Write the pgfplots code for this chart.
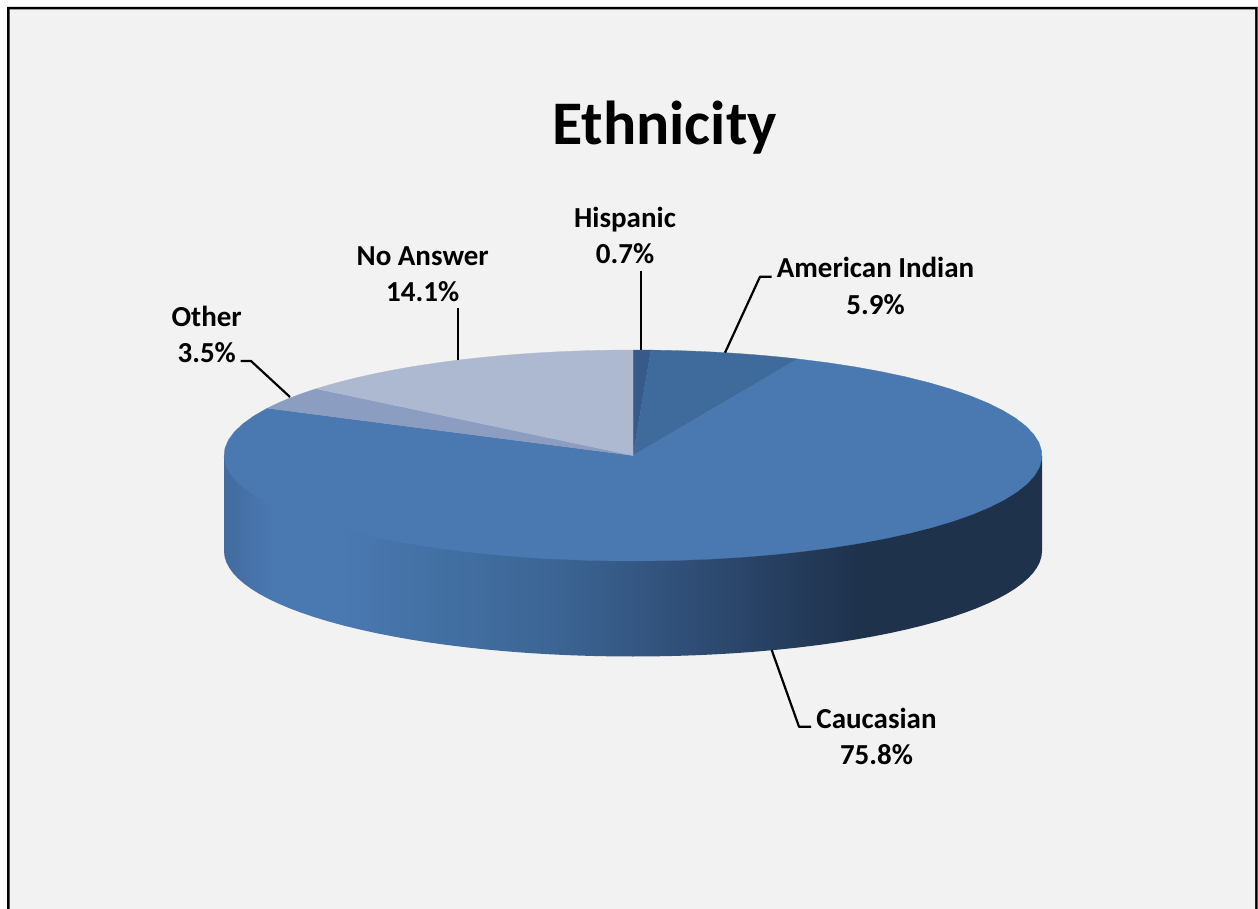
\documentclass[border=0pt]{standalone}
\usepackage{pgfplots}
\usepackage{pgfplotstable}
\usepackage{fontspec}
\pgfplotsset{compat=1.18}
\setmainfont{Carlito}

\definecolor{panel}{HTML}{F2F2F2}
\definecolor{hispanic}{HTML}{365A8A}
\definecolor{amindian}{HTML}{3F6A9C}
\definecolor{caucasian}{HTML}{4A78B1}
\definecolor{other}{HTML}{8B9EC1}
\definecolor{noanswer}{HTML}{ADB9D1}
\definecolor{rimedge}{HTML}{416C9F}
\definecolor{rimlight}{HTML}{4A78B1}
\definecolor{rimA}{HTML}{4472A6}
\definecolor{rimB}{HTML}{3B6493}
\definecolor{rimC}{HTML}{2F4D75}
\definecolor{rimD}{HTML}{1E324C}

% Rim of the disc: light on the left, falling to dark towards the right.
\pgfdeclarehorizontalshading{rim}{100bp}{
  color(0bp)=(rimedge);
  color(25bp)=(rimedge);
  color(28bp)=(rimlight);
  color(32bp)=(rimlight);
  color(37bp)=(rimA);
  color(45.7bp)=(rimB);
  color(53.7bp)=(rimC);
  color(63.8bp)=(rimD);
  color(75bp)=(rimD);
  color(100bp)=(rimD)}

\pgfplotstableread{
share  label
0.7    Hispanic
5.9    AmericanIndian
75.8   Caucasian
3.5    Other
14.1   NoAnswer
}\ethnicity

% Disc geometry in picture units
\def\cx{633}\def\cy{455.5}\def\rx{409}\def\ry{105.5}\def\depth{95.5}

% \arcpoints{from deg}{to deg}{centre y}: appends points along the rim to \pts
\newcommand{\arcpoints}[3]{%
  \foreach \k in {0,...,60}{%
    \pgfmathsetmacro{\ang}{#1+(#2-#1)*\k/60}%
    \pgfmathsetmacro{\px}{\cx+\rx*sin(\ang)}%
    \pgfmathsetmacro{\py}{#3-\ry*cos(\ang)}%
    \xdef\pts{\pts (\px,\py)}%
  }%
}

\pgfplotsset{lead/.style={black,line width=2.2pt,line join=round,forget plot}}
\newcommand{\pielabel}[5]{%
  \node[anchor=base,font=\fontsize{#5}{#5}\selectfont\bfseries,text=black,inner sep=0pt] at (axis cs:#1,#2+1.3) {#3};%
  \node[anchor=base,font=\fontsize{#5}{#5}\selectfont\bfseries,text=black,inner sep=0pt] at (axis cs:#1,#2+37.3) {#4};%
}

\begin{document}
\begin{tikzpicture}
\begin{axis}[
  scale only axis,
  width=1258pt,height=909pt,
  xmin=0,xmax=1258,ymin=0,ymax=909,
  y dir=reverse,
  hide axis,
  clip=true,
]
  % Page, border and panel; the border's lower edge lies past the page
  \addplot[fill=white,draw=none,forget plot]
    coordinates {(0,0) (1258,0) (1258,909) (0,909) (0,0)};
  \addplot[fill=black,draw=none,forget plot]
    coordinates {(7,7) (1257.5,7) (1257.5,909) (7,909) (7,7)};
  \addplot[fill=panel,draw=none,forget plot]
    coordinates {(9.5,9.5) (1255.2,9.5) (1255.2,909) (9.5,909) (9.5,9.5)};

  % Rim of the disc
  \gdef\pts{(224,\cy)}
  \pgfmathsetmacro{\lowy}{\cy+\depth}
  \arcpoints{270}{90}{\lowy}
  \xdef\pts{\pts (1042,\cy) (224,\cy)}
  \edef\tmp{\noexpand\addplot[draw=none,shading=rim,forget plot] coordinates {\pts};}
  \tmp

  % Top face: one sector per row, clockwise from twelve o'clock
  \gdef\cum{0}
  \foreach \row/\col in {0/hispanic,1/amindian,2/caucasian,3/other,4/noanswer}{
    \pgfplotstablegetelem{\row}{share}\of\ethnicity
    \pgfmathsetmacro{\from}{\cum*3.6}
    \pgfmathsetmacro{\newcum}{\cum+\pgfplotsretval}
    \xdef\cum{\newcum}
    \pgfmathsetmacro{\to}{\newcum*3.6}
    \gdef\pts{(\cx,\cy)}
    \arcpoints{\from}{\to}{\cy}
    \xdef\pts{\pts (\cx,\cy)}
    \edef\tmp{\noexpand\addplot[fill=\col,draw=\col,line width=0.3pt,line join=round,forget plot] coordinates {\pts};}
    \tmp
  }

  % Leader lines
  \addplot[lead] coordinates {(640.7,271) (640.7,350)};
  \addplot[lead] coordinates {(457.7,308) (457.7,360)};
  \addplot[lead] coordinates {(240.7,361) (251,361) (290,397)};
  \addplot[lead] coordinates {(771.7,276.7) (760,276.7) (725,352.7)};
  \addplot[lead] coordinates {(771.7,650) (799,726.7) (811,726.7)};

  % Title and sector labels
  \node[anchor=base,font=\fontsize{62}{62}\selectfont\bfseries,text=black,inner sep=0pt] at (axis cs:664.5,144.5) {Ethnicity};
  \pielabel{625}{226.7}{Hispanic}{0.7\%}{29}
  \pielabel{422.7}{264}{No Answer}{14.1\%}{29}
  \pielabel{206.7}{325}{Other}{3.5\%}{29}
  \pielabel{875.5}{276.7}{American Indian}{5.9\%}{29}
  \pielabel{876.5}{727.3}{Caucasian}{75.8\%}{29}
\end{axis}
\end{tikzpicture}
\end{document}
